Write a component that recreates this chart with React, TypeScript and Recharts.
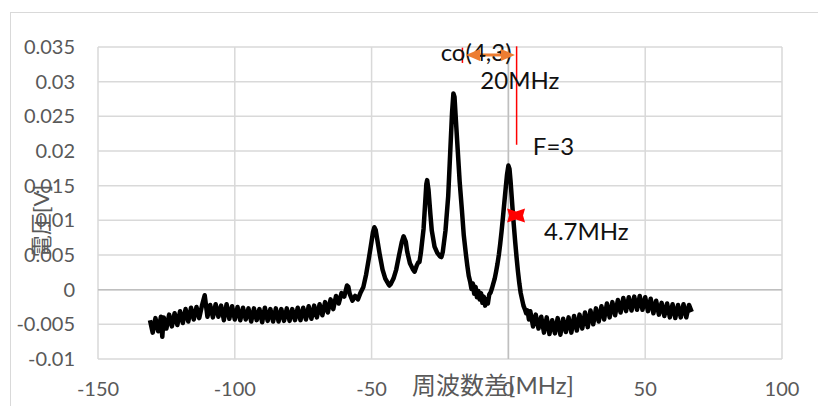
import { LineChart, Line, XAxis, YAxis, CartesianGrid, ReferenceLine, ReferenceDot, Label } from 'recharts';

// frequency difference [MHz] and signal [V]
const freq = [
  -131, -130, -129, -128, -127, -126.5, -126, -125, -124, -123, -122, -121, -120, -119, -118, -117, -116, -115, -114, -113,
  -112, -111, -110, -109, -108, -107, -106, -105, -104, -103, -102, -101, -100, -99, -98, -97, -96, -95, -94, -93,
  -92, -91, -90, -89, -88, -87, -86, -85, -84, -83, -82, -81, -80, -79, -78, -77, -76, -75, -74, -73,
  -72, -71, -70, -69, -68, -67, -66, -65, -64, -63, -62, -61, -60, -59, -58.5, -58, -57, -56, -55, -54,
  -53, -52, -51, -50, -49.5, -49, -48.5, -48, -47, -46, -45, -44, -43.5, -43, -42, -41, -40, -39, -38.3, -37.5,
  -37, -36, -35, -34.3, -33.5, -33, -32.5, -32, -31, -30.5, -30, -29.7, -29.2, -28.5, -28, -27, -26, -25, -24.5, -24,
  -23, -22, -21.3, -20.6, -20.1, -19.7, -19.2, -18.5, -17.8, -17, -16.3, -15.5, -15, -14.5, -14, -13.5, -13, -12.5, -12, -11.5,
  -11, -10.5, -10, -9.5, -9, -8.5, -8, -7.5, -7, -6.5, -6, -5.5, -5, -4.5, -4, -3.5, -3, -2.5, -2, -1.5,
  -1, -0.5, 0, 0.4, 0.8, 1.2, 1.6, 2, 2.5, 3, 3.5, 4, 4.5, 5, 5.5, 6, 6.5, 7, 7.5, 8,
  9, 10, 11, 12, 13, 14, 15, 16, 17, 18, 19, 20, 21, 22, 23, 24, 25, 26, 27, 28,
  29, 30, 31, 32, 33, 34, 35, 36, 37, 38, 39, 40, 41, 42, 43, 44, 45, 46, 47, 48,
  49, 50, 51, 52, 53, 54, 55, 56, 57, 58, 59, 60, 61, 62, 63, 64, 65, 66, 67,
];

const volt = [
  -0.0044, -0.0062, -0.0041, -0.0060, -0.0039, -0.0068, -0.0040, -0.0056, -0.0036, -0.0053, -0.0034, -0.0051, -0.0031, -0.0048, -0.0028, -0.0046, -0.0026, -0.0043, -0.0025, -0.0041,
  -0.0023, -0.0008, -0.0039, -0.0022, -0.0040, -0.0021, -0.0039, -0.0023, -0.0044, -0.0021, -0.0042, -0.0024, -0.0043, -0.0025, -0.0044, -0.0026, -0.0043, -0.0027, -0.0046, -0.0027,
  -0.0044, -0.0028, -0.0047, -0.0026, -0.0045, -0.0028, -0.0046, -0.0027, -0.0046, -0.0028, -0.0045, -0.0027, -0.0045, -0.0028, -0.0044, -0.0026, -0.0044, -0.0026, -0.0043, -0.0024,
  -0.0042, -0.0023, -0.0040, -0.0021, -0.0037, -0.0018, -0.0033, -0.0014, -0.0028, -0.0009, -0.0020, -0.0005, -0.0010, 0.0006, 0.0004, -0.0006, -0.0016, -0.0009, -0.0014, -0.0004,
  0.0004, 0.0022, 0.0045, 0.0070, 0.0083, 0.0090, 0.0086, 0.0074, 0.0050, 0.0029, 0.0016, 0.0009, 0.0006, 0.0008, 0.0016, 0.0029, 0.0049, 0.0068, 0.0077, 0.0069,
  0.0055, 0.0038, 0.0030, 0.0026, 0.0035, 0.0039, 0.0040, 0.0053, 0.0088, 0.0120, 0.0152, 0.0158, 0.0144, 0.0108, 0.0085, 0.0062, 0.0053, 0.0048, 0.0047, 0.0054,
  0.0085, 0.0135, 0.0195, 0.0255, 0.0283, 0.0278, 0.0245, 0.0200, 0.0155, 0.0115, 0.0078, 0.0050, 0.0034, 0.0020, 0.0012, 0.0001, 0.0009, -0.0006, 0.0004, -0.0011,
  -0.0002, -0.0014, -0.0005, -0.0019, -0.0010, -0.0023, -0.0014, -0.0020, -0.0007, -0.0004, 0.0002, 0.0009, 0.0016, 0.0026, 0.0037, 0.0050, 0.0066, 0.0084, 0.0104, 0.0125,
  0.0146, 0.0166, 0.0179, 0.0174, 0.0156, 0.0134, 0.0112, 0.0092, 0.0068, 0.0046, 0.0026, 0.0009, -0.0005, -0.0014, -0.0023, -0.0028, -0.0034, -0.0030, -0.0043, -0.0031,
  -0.0053, -0.0036, -0.0056, -0.0039, -0.0062, -0.0040, -0.0064, -0.0044, -0.0063, -0.0041, -0.0065, -0.0042, -0.0061, -0.0040, -0.0062, -0.0038, -0.0059, -0.0036, -0.0056, -0.0033,
  -0.0054, -0.0030, -0.0050, -0.0027, -0.0046, -0.0024, -0.0043, -0.0020, -0.0040, -0.0018, -0.0037, -0.0015, -0.0033, -0.0012, -0.0031, -0.0011, -0.0030, -0.0010, -0.0029, -0.0009,
  -0.0029, -0.0011, -0.0031, -0.0013, -0.0034, -0.0016, -0.0036, -0.0019, -0.0038, -0.0020, -0.0040, -0.0021, -0.0041, -0.0022, -0.0040, -0.0021, -0.0040, -0.0022, -0.0032,
];

const xTicks = [-150, -100, -50, 0, 50, 100];
const yTicks = [-0.01, -0.005, 0, 0.005, 0.01, 0.015, 0.02, 0.025, 0.03, 0.035];

// annotations drawn on the chart
const redLines = [
  { x: 3.0, from: 0.0351, to: 0.0209 },
  { x: -16.8, from: 0.0349, to: 0.0327 },
];
const spanArrow = { from: -15.5, to: 2.4, y: 0.03385 };
const halfMark = { x: 2.8, y: 0.0107 };
const notes = [
  { x: -11.8, y: 0.0344, text: 'co(4,3)' },
  { x: 4.2, y: 0.03025, text: '20MHz' },
  { x: 16.5, y: 0.0208, text: 'F=3' },
  { x: 28.5, y: 0.00847, text: '4.7MHz' },
];

const data = freq.map((x, i) => ({ x, v: volt[i] }));

const FONT = 'Lato, "Noto Sans CJK JP", sans-serif';
const GRAY = '#595959';
const ORANGE = '#ED7D31';

function ArrowHead(dir: number) {
  return (props: any) => {
    const { cx, cy } = props;
    const len = 14;
    const h = 6;
    return <polygon points={`${cx},${cy} ${cx + dir * len},${cy - h} ${cx + dir * len},${cy + h}`} fill={ORANGE} />;
  };
}

function BowTie(props: any) {
  const { cx, cy } = props;
  const pts = [[-9, -7], [0, -4], [9, -7], [7, 0], [9, 7], [0, 4], [-9, 7], [-7, 0]]
    .map(([dx, dy]) => `${cx + dx},${cy + dy}`)
    .join(' ');
  return <polygon points={pts} fill="#ff0000" />;
}

export default function App() {
  return (
    <div style={{ position: 'absolute', left: 0, top: 0, width: 818, height: 406, background: '#fff', overflow: 'hidden', fontFamily: FONT }}>
      <div style={{ position: 'absolute', left: 10, top: 12, width: 840, height: 420, border: '1px solid #d9d9d9' }} />
      <LineChart width={818} height={406} data={data} margin={{ top: 47, right: 36, bottom: 7, left: 38 }} style={{ position: 'absolute', left: 0, top: 0 }}>
        <CartesianGrid stroke="#d9d9d9" strokeWidth={1.5} />
        <XAxis
          dataKey="x"
          type="number"
          domain={[-150, 100]}
          ticks={xTicks}
          height={40}
          axisLine={false}
          tickLine={false}
          tickSize={0}
          tickMargin={23}
          tick={{ fill: GRAY, fontSize: 20, fontFamily: FONT }}
        >
          <Label
            content={(p: any) => (
              <text x={p.viewBox.x + p.viewBox.width / 2 + 53} y={p.viewBox.y + 35} textAnchor="middle" fill={GRAY} fontSize={24} fontFamily={FONT}>
                周波数差[MHz]
              </text>
            )}
          />
        </XAxis>
        <YAxis
          type="number"
          domain={[-0.01, 0.035]}
          ticks={yTicks}
          width={60}
          axisLine={false}
          tickLine={false}
          tickSize={0}
          tickMargin={23}
          tickFormatter={(v: number) => String(v)}
          tick={{ fill: GRAY, fontSize: 20, fontFamily: FONT }}
        >
          <Label
            content={(p: any) => {
              const x = p.viewBox.x + 2;
              const y = p.viewBox.y + p.viewBox.height / 2 + 18;
              return (
                <text x={x} y={y} transform={`rotate(-90, ${x}, ${y})`} textAnchor="middle" dominantBaseline="central" fill={GRAY} fontSize={22} fontFamily={FONT}>
                  電圧[V]
                </text>
              );
            }}
          />
        </YAxis>
        <ReferenceLine x={0} stroke="#bfbfbf" strokeWidth={1.5} />
        <ReferenceLine y={0} stroke="#bfbfbf" strokeWidth={1.5} />
        <Line dataKey="v" type="linear" stroke="#000" strokeWidth={4.5} dot={false} strokeLinejoin="round" isAnimationActive={false} />
        {notes.map((n) => (
          <ReferenceDot
            key={n.text}
            x={n.x}
            y={n.y}
            r={1}
            ifOverflow="visible"
            shape={(p: any) => (
              <text x={p.cx} y={p.cy} textAnchor="middle" dominantBaseline="central" fontSize={24} fontFamily={FONT} fill="#111">
                {n.text}
              </text>
            )}
          />
        ))}
        {redLines.map((r, i) => (
          <ReferenceLine key={i} segment={[{ x: r.x, y: r.from }, { x: r.x, y: r.to }]} stroke="#ff0000" strokeWidth={1.5} ifOverflow="visible" />
        ))}
        <ReferenceLine
          segment={[{ x: spanArrow.from + 4, y: spanArrow.y }, { x: spanArrow.to - 4, y: spanArrow.y }]}
          stroke={ORANGE}
          strokeWidth={3}
          ifOverflow="visible"
        />
        <ReferenceDot x={spanArrow.from} y={spanArrow.y} r={6} ifOverflow="visible" shape={ArrowHead(1)} />
        <ReferenceDot x={spanArrow.to} y={spanArrow.y} r={6} ifOverflow="visible" shape={ArrowHead(-1)} />
        <ReferenceDot x={halfMark.x} y={halfMark.y} r={8} ifOverflow="visible" shape={BowTie} />
      </LineChart>
    </div>
  );
}
